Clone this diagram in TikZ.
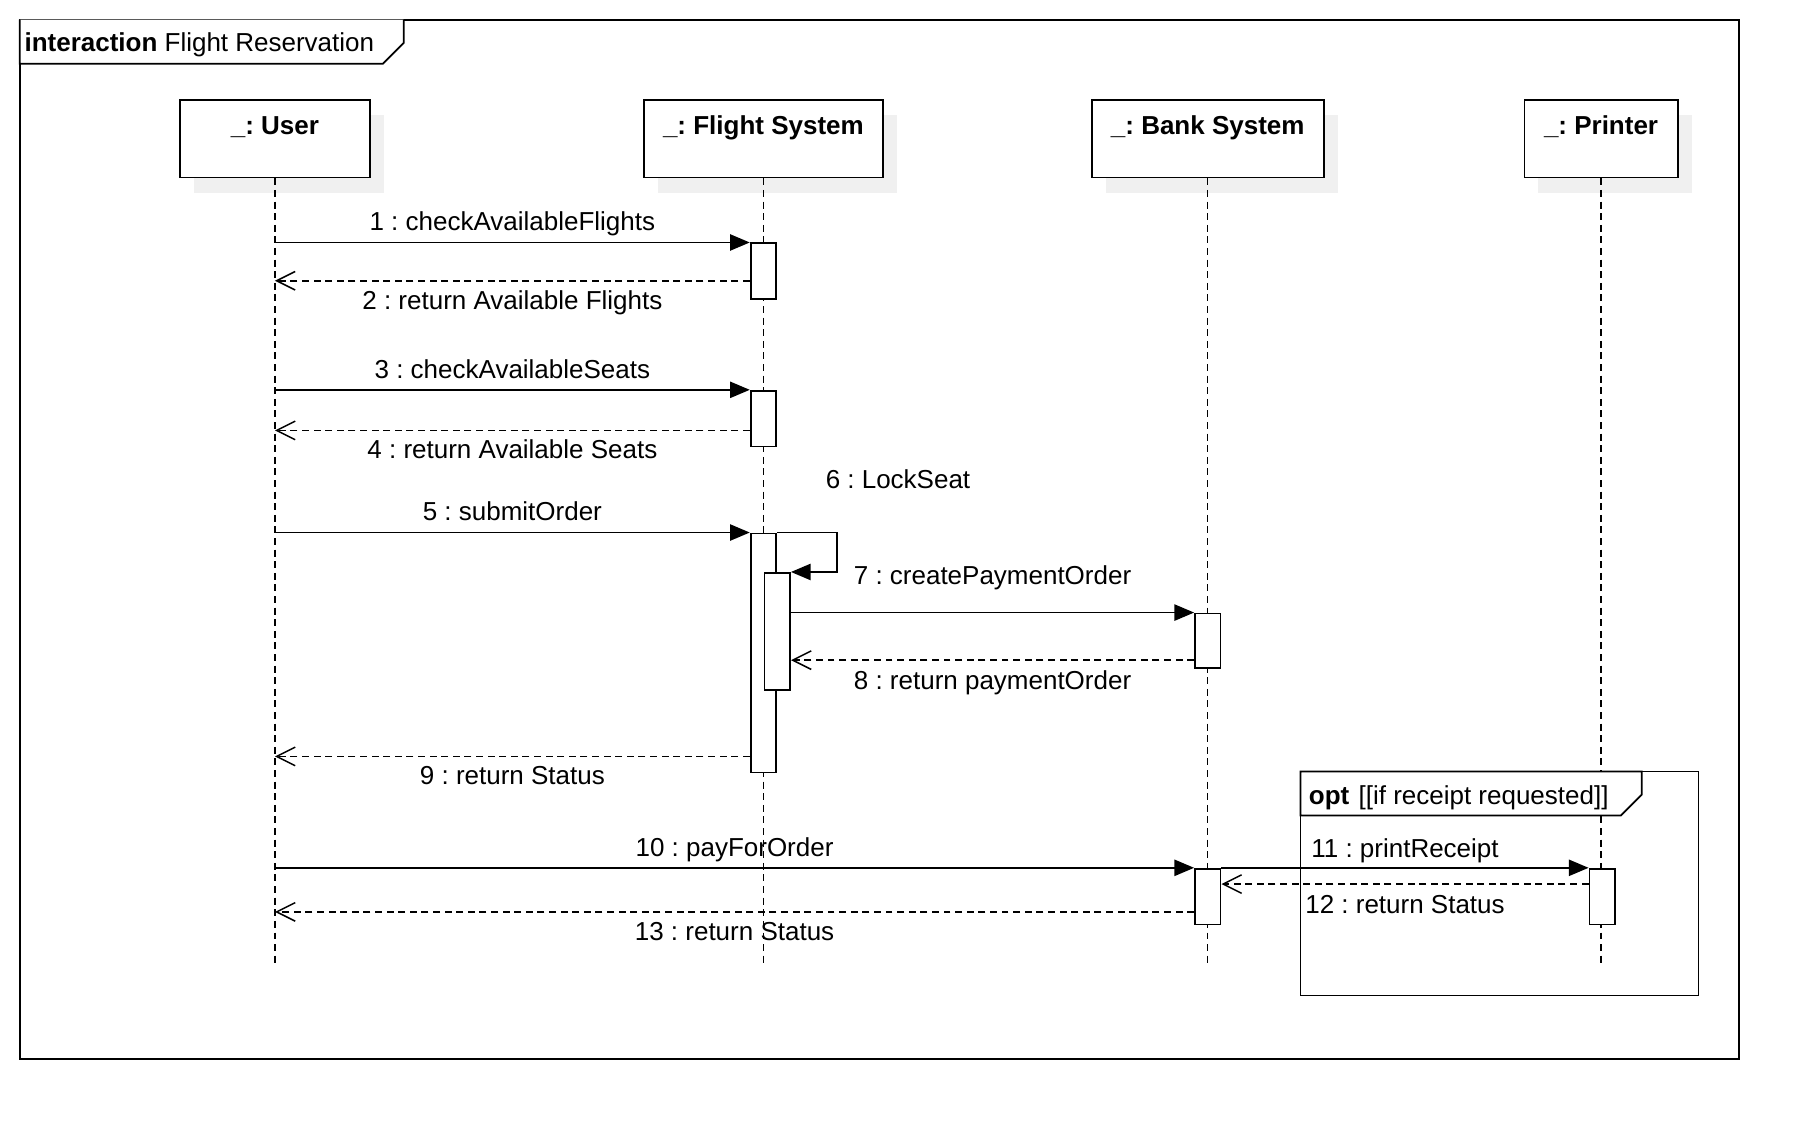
\documentclass[tikz,border=0pt]{standalone}
\usepackage{fontspec}
\setmainfont{Liberation Sans}
\usetikzlibrary{arrows.meta,positioning,shadows}
\frenchspacing

\tikzset{
  head/.style={draw, fill=white, line width=1.5pt, minimum width=#1, minimum height=67pt,
    inner sep=0pt, text height=30pt, text depth=37pt, font=\fontsize{22.4}{27}\selectfont\bfseries,
    drop shadow={shadow xshift=12pt, shadow yshift=-13pt, fill=black!6, opacity=1}},
  act/.style={draw, fill=white, line width=1.5pt, minimum width=22pt, minimum height=#1,
    inner sep=0pt, anchor=north},
  lifeline/.style={line width=1.2pt, dash pattern=on 6pt off 4pt},
  call/.style={line width=1.5pt, -{Triangle[length=17pt,width=14pt]}},
  ret/.style={line width=1.3pt, dash pattern=on 6pt off 4pt,
    -{Straight Barb[length=16pt,width=16pt,line width=1.3pt]}},
  lblup/.style={midway, anchor=base, yshift=10pt},
  lbldown/.style={midway, anchor=base, yshift=-25pt}
}

\begin{document}
\begin{tikzpicture}[x=1pt, y=-1pt, font=\fontsize{22.4}{27}\selectfont]
  \useasboundingbox (0,0) rectangle (1567,982.6);
  % interaction frame
  \draw[line width=1.5pt] (17,17) rectangle (1499,913);
  \draw[line width=1.5pt, fill=white] (17,17) -- (17,55) -- (330,55) -- (348,37) -- (348,17);
  \node[anchor=base west, inner sep=0pt] (title) at (21,44) {\textbf{interaction} Flight Reservation};

  % lifelines
  \node[head=164pt] (user) at (237,119.5) {\_: User};
  \node[head=206pt] (fsys) at (658,119.5) {\_: Flight System};
  \node[head=200pt] (bank) at (1041,119.5) {\_: Bank System};
  \node[head=132pt] (printer) at (1380,119.5) {\_: Printer};
  \coordinate (end) at (0,833);
  \foreach \n in {user,fsys,bank,printer}
    \draw[lifeline] (\n.south) -- (\n.south |- end);

  % opt fragment
  \draw[line width=1.5pt] (1121,665) rectangle (1464,858);
  \draw[line width=1.5pt, fill=white] (1121,665) -- (1121,703) -- (1397,703) -- (1415,685) -- (1415,665) -- cycle;
  \node[anchor=base west, inner sep=0pt] (opt) at (1128,693) {\textbf{opt}\hspace{8pt}[[if receipt requested]]};

  % activations
  \node[act=48pt] (a1) at (658,209) {};
  \node[act=48pt] (a3) at (658,336) {};
  \node[act=206pt] (a5) at (658,459) {};
  \node[act=101pt] (a6) at (670,493) {};
  \node[act=47pt] (a7) at (1041,528) {};
  \node[act=48pt] (a10) at (1041,748) {};
  \node[act=48pt] (a11) at (1381,748) {};

  % messages
  \draw[call] (user |- a1.north) -- node[lblup] {1 : checkAvailableFlights} (a1.north west);
  \draw[ret] (a1.west |- 0,242) -- node[lbldown] {2 : return Available Flights} (user |- 0,242);
  \draw[call] (user |- a3.north) -- node[lblup] {3 : checkAvailableSeats} (a3.north west);
  \draw[ret] (a3.west |- 0,371) -- node[lbldown, yshift=1pt] {4 : return Available Seats} (user |- 0,371);
  \draw[call] (user |- a5.north) -- node[lblup] {5 : submitOrder} (a5.north west);
  \draw[call] (a5.north east) -- ++(52,0) |- (a6.north east);
  \node[anchor=base] (m6) at (774,421) {6 : LockSeat};
  \draw[call] (a6.east |- a7.north) -- node[lblup, yshift=14pt] {7 : createPaymentOrder} (a7.north west);
  \draw[ret] (a7.west |- 0,569) -- node[lbldown] {8 : return paymentOrder} (a6.east |- 0,569);
  \draw[ret] (a5.west |- 0,652) -- node[lbldown, yshift=1pt] {9 : return Status} (user |- 0,652);
  \draw[call] (user |- a10.north) -- node[lblup] {10 : payForOrder} (a10.north west);
  \draw[call] (a10.north east) -- node[lblup, yshift=-1pt] {11 : printReceipt} (a11.north west);
  \draw[ret] (a11.west |- 0,762) -- node[lbldown] {12 : return Status} (a10.east |- 0,762);
  \draw[ret] (a10.west |- 0,786) -- node[lbldown] {13 : return Status} (user |- 0,786);
\end{tikzpicture}
\end{document}
